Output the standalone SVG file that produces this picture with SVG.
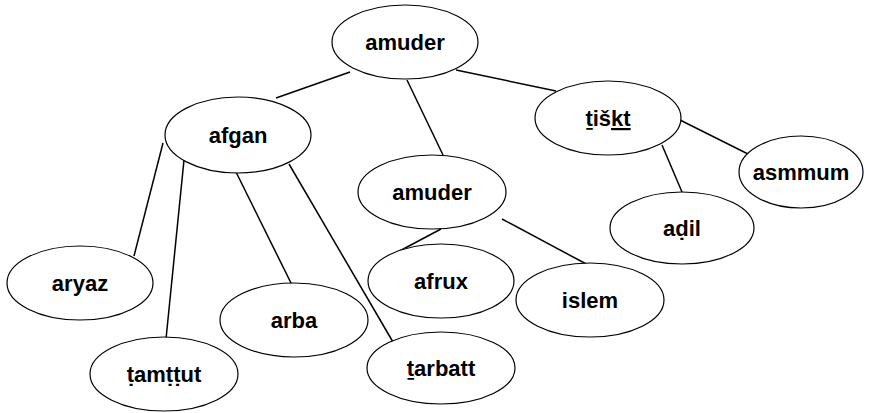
<svg xmlns="http://www.w3.org/2000/svg" width="881" height="413" viewBox="0 0 881 413">
<style>
.n ellipse{fill:#fff;stroke:#000;stroke-width:1.2}
.n text{font-family:"Liberation Sans",Arial,sans-serif;font-weight:bold;font-size:22px;text-anchor:middle;fill:#000}
#edges line{stroke:#000;stroke-width:1.5}
</style>
<rect width="881" height="413" fill="#fff"/>
<g id="edges">
<line x1="350" y1="72" x2="276" y2="98"/>
<line x1="407" y1="80" x2="443" y2="155"/>
<line x1="456" y1="70" x2="556" y2="91"/>
<line x1="163" y1="143" x2="134" y2="256"/>
<line x1="184" y1="160" x2="166" y2="339"/>
<line x1="236" y1="172" x2="292" y2="285"/>
<line x1="289" y1="164" x2="393" y2="342"/>
<line x1="441" y1="229" x2="392" y2="255"/>
<line x1="502" y1="219" x2="590" y2="266"/>
<line x1="662" y1="145" x2="682" y2="192"/>
<line x1="676" y1="118" x2="752" y2="156"/>
</g>
<g id="n_amuder_root" class="n"><ellipse cx="405" cy="42" rx="73" ry="37"/><text x="405" y="50">amuder</text></g>
<g id="n_afgan" class="n"><ellipse cx="238" cy="135" rx="73" ry="38"/><text x="238" y="143">afgan</text></g>
<g id="n_tiskt" class="n"><ellipse cx="608" cy="118" rx="73" ry="37"/><text x="608" y="126">ṯiš<tspan text-decoration="underline">kt</tspan></text></g>
<g id="n_amuder_mid" class="n"><ellipse cx="432" cy="192" rx="74" ry="37"/><text x="432" y="200">amuder</text></g>
<g id="n_asmmum" class="n"><ellipse cx="801" cy="172" rx="62" ry="36"/><text x="801" y="180">asmmum</text></g>
<g id="n_adil" class="n"><ellipse cx="682" cy="228" rx="72" ry="36"/><text x="682" y="236">aḍil</text></g>
<g id="n_aryaz" class="n"><ellipse cx="80" cy="283" rx="73" ry="37"/><text x="80" y="291">aryaz</text></g>
<g id="n_arba" class="n"><ellipse cx="294" cy="320" rx="74" ry="37"/><text x="294" y="328">arba</text></g>
<g id="n_afrux" class="n"><ellipse cx="441" cy="281" rx="73" ry="37"/><text x="441" y="289">afrux</text></g>
<g id="n_islem" class="n"><ellipse cx="590" cy="300" rx="74" ry="37"/><text x="590" y="308">islem</text></g>
<g id="n_tamttut" class="n"><ellipse cx="164" cy="374" rx="74" ry="37"/><text x="164" y="382">ṭamṭṭut</text></g>
<g id="n_tarbatt" class="n"><ellipse cx="441" cy="368" rx="74" ry="36"/><text x="441" y="376">ṯarbatt</text></g>
</svg>
